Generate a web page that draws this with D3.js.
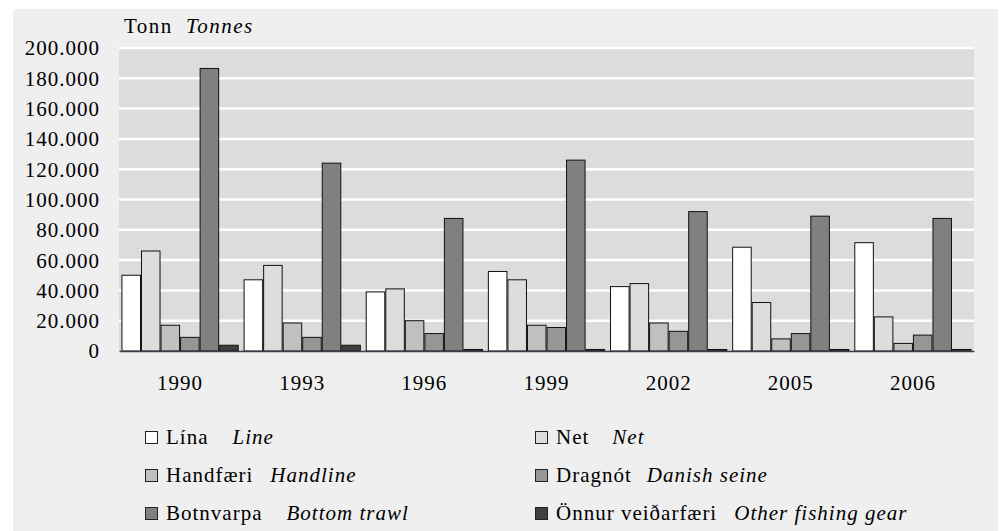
<!DOCTYPE html>
<html>
<head>
<meta charset="utf-8">
<script src="https://cdn.jsdelivr.net/npm/d3@7"></script>
<style>
  body { margin: 0; background: #ffffff; }
</style>
</head>
<body>
<svg id="chart" width="1002" height="531"></svg>
<script>
// years on the x axis
var years = ["1990", "1993", "1996", "1999", "2002", "2005", "2006"];

// one array per fishing gear, tonnes
var lina      = [50000, 47000, 39000, 52500, 42500, 68500, 71500];
var net       = [66000, 56500, 41000, 47000, 44500, 32000, 22500];
var handfaeri = [17000, 18500, 20000, 17000, 18500, 8000, 5000];
var dragnot   = [9000, 9000, 11500, 15500, 13000, 11500, 10500];
var botnvarpa = [186500, 124000, 87500, 126000, 92000, 89000, 87500];
var onnur     = [3800, 3800, 1000, 1000, 1000, 1000, 1000];

var seriesNames_is = ["Lína", "Net", "Handfæri", "Dragnót", "Botnvarpa", "Önnur veiðarfæri"];
var seriesNames_en = ["Line", "Net", "Handline", "Danish seine", "Bottom trawl", "Other fishing gear"];
var seriesColors = ["#ffffff", "#dddddd", "#c0c0c0", "#969696", "#808080", "#404040"];

var yTicks = [0, 20000, 40000, 60000, 80000, 100000, 120000, 140000, 160000, 180000, 200000];

var allSeries = [lina, net, handfaeri, dragnot, botnvarpa, onnur];

// gap between icelandic and english legend text (layout only)
var legendGap = [24, 23, 17, 15, 24, 17];

var FONT = "'Liberation Serif', 'Times New Roman', Times, serif";

var svg = d3.select("#chart"),
    margin = {top: 48, right: 28, bottom: 180, left: 119},
    width = +svg.attr("width") - margin.left - margin.right,
    height = +svg.attr("height") - margin.top - margin.bottom;

function styleText(sel) {
  sel.style("font-family", FONT)
     .style("font-size", "21px")
     .style("letter-spacing", "1px")
     .style("fill", "#000");
}

// outer panel
svg.append("rect")
    .attr("x", 13).attr("y", 9)
    .attr("width", 985).attr("height", 530)
    .attr("fill", "#efefef");

var g = svg.append("g")
    .attr("transform", "translate(" + margin.left + "," + margin.top + ")");

var x = d3.scaleBand().domain(years).range([0, width]).paddingInner(0.04).paddingOuter(0.02);
var xs = d3.scaleBand().domain(d3.range(allSeries.length)).range([0, x.bandwidth()]);
var y = d3.scaleLinear().domain([0, 200000]).range([height, 0]);

var fmt = function(d) { return d3.format(",")(d).replace(/,/g, "."); };

g.append("rect")
    .attr("width", width).attr("height", height)
    .attr("fill", "#dcdcdc");

// gridlines
g.selectAll("line.grid")
  .data(yTicks.slice(1))
  .enter().append("line")
    .attr("class", "grid")
    .attr("x1", 0).attr("x2", width)
    .attr("y1", function(d) { return y(d); })
    .attr("y2", function(d) { return y(d); })
    .attr("stroke", "#ffffff")
    .attr("stroke-width", 2.5);

// y labels
var yAxis = g.append("g")
    .call(d3.axisLeft(y).tickValues(yTicks).tickFormat(fmt).tickSize(0).tickPadding(19));
yAxis.select(".domain").remove();
yAxis.selectAll("text").attr("dy", "0.33em").call(styleText);

// bars
var groups = g.selectAll("g.year")
  .data(years)
  .enter().append("g")
    .attr("class", "year")
    .attr("transform", function(d) { return "translate(" + x(d) + ",0)"; });

groups.selectAll("rect")
  .data(function(d, i) { return allSeries.map(function(s, k) { return {k: k, v: s[i]}; }); })
  .enter().append("rect")
    .attr("x", function(d) { return xs(d.k) + 0.5; })
    .attr("y", function(d) { return y(d.v); })
    .attr("width", xs.bandwidth() - 1)
    .attr("height", function(d) { return height - y(d.v); })
    .attr("fill", function(d) { return seriesColors[d.k]; })
    .attr("stroke", "#111")
    .attr("stroke-width", 1);

// x axis
var xAxis = g.append("g")
    .attr("transform", "translate(0," + height + ")")
    .call(d3.axisBottom(x).tickSize(0).tickPadding(24));
xAxis.select(".domain").attr("stroke", "#3a3d4a").attr("stroke-width", 1.5);
xAxis.selectAll("text").call(styleText);

// title
var title = svg.append("text")
    .attr("x", 124).attr("y", 33)
    .call(styleText)
    .style("letter-spacing", "1.5px")
    .text("Tonn");
title.append("tspan")
    .attr("dx", 13)
    .style("font-style", "italic")
    .text("Tonnes");

// legend
var legend = svg.selectAll("g.legend")
  .data(seriesNames_is)
  .enter().append("g")
    .attr("class", "legend")
    .attr("transform", function(d, i) {
      return "translate(" + (i % 2 ? 535 : 145) + "," + (444 + Math.floor(i / 2) * 38) + ")";
    });

legend.append("rect")
    .attr("x", 0.5).attr("y", -12.5)
    .attr("width", 12).attr("height", 12)
    .attr("fill", function(d, i) { return seriesColors[i]; })
    .attr("stroke", "#222");

var lt = legend.append("text")
    .attr("x", 21).attr("y", 0)
    .call(styleText)
    .text(function(d) { return d; });
lt.append("tspan")
    .attr("dx", function(d, i) { return legendGap[i]; })
    .style("font-style", "italic")
    .text(function(d, i) { return seriesNames_en[i]; });
</script>
</body>
</html>
